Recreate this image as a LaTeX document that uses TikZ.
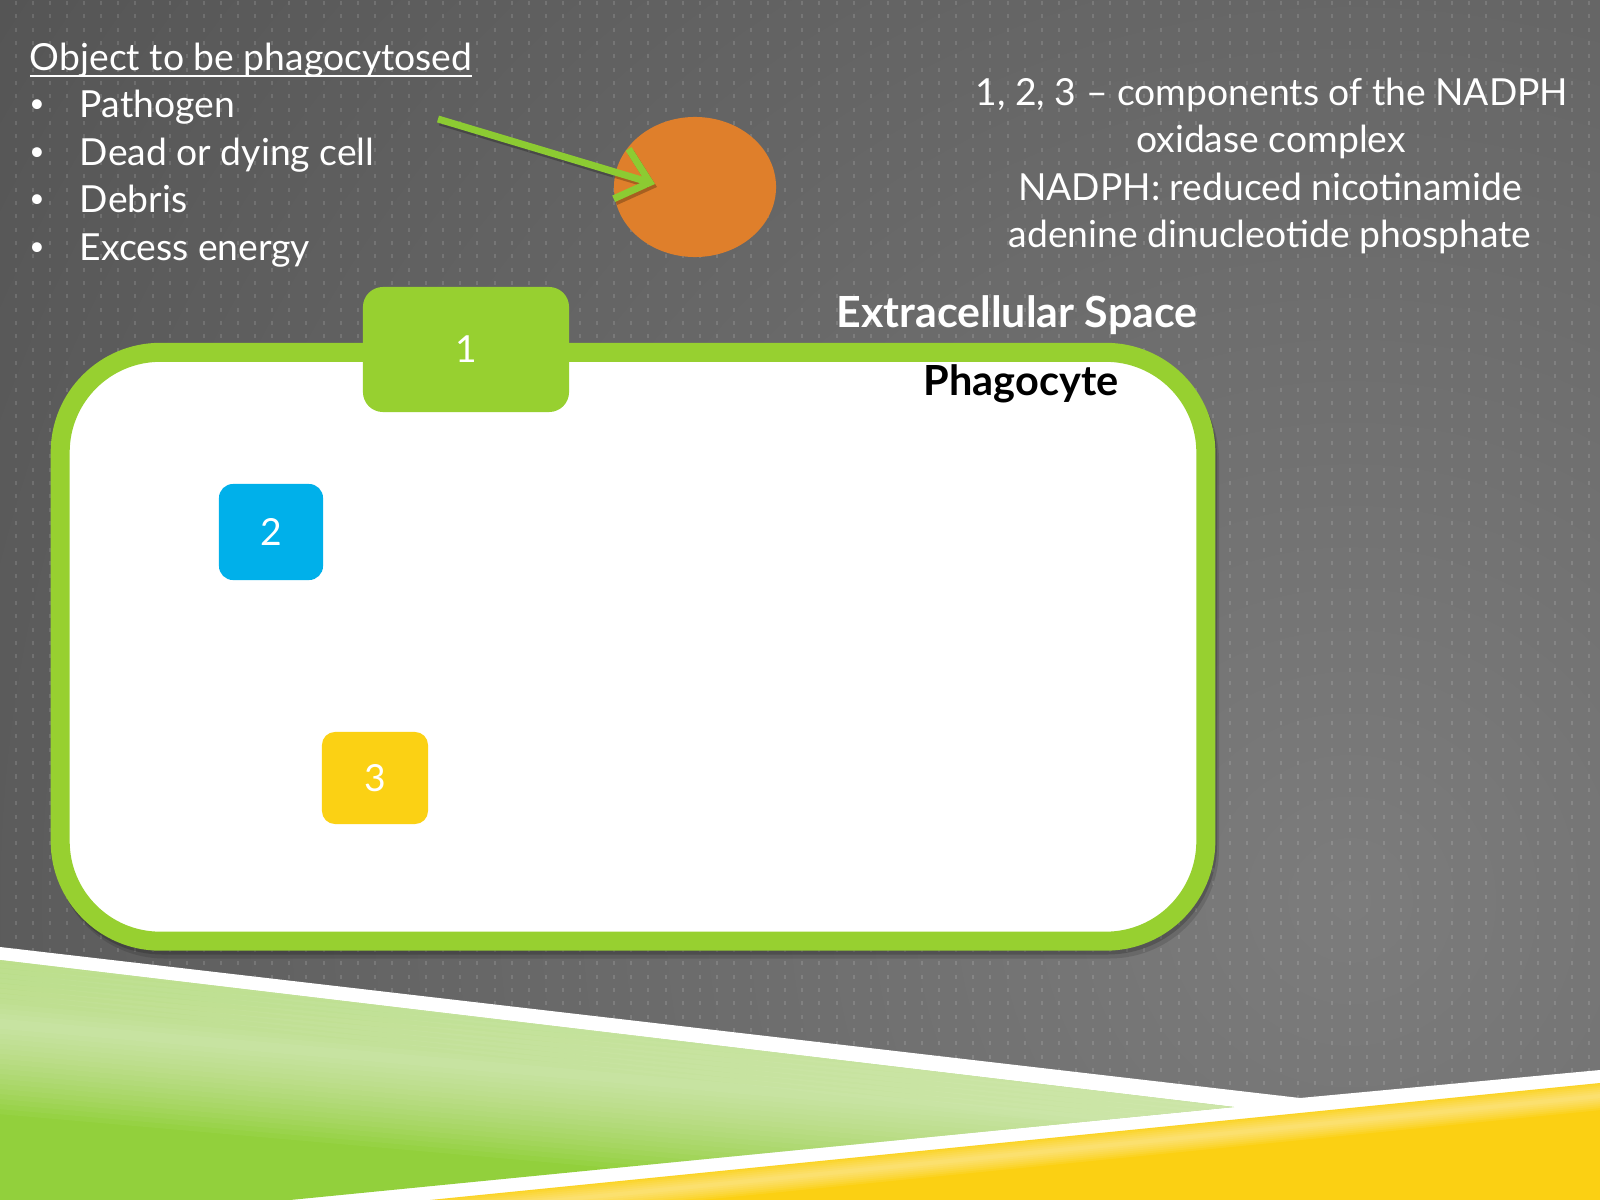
\documentclass[tikz,border=0pt]{standalone}
\usepackage{fontspec}
\setmainfont{Lato}
\usetikzlibrary{shapes.geometric,arrows.meta}
\definecolor{bgdark}{HTML}{474747}
\definecolor{bglight}{HTML}{7C7C7C}
\definecolor{cellgreen}{HTML}{97D030}
\definecolor{arrowgreen}{HTML}{8CCB32}
\definecolor{objorange}{HTML}{DF7F2B}
\definecolor{boxblue}{HTML}{00B0EA}
\definecolor{boxyellow}{HTML}{FBD114}
\definecolor{gA}{HTML}{92D03C}
\definecolor{yA}{HTML}{FBD013}
\newcommand\bodyfs{\fontsize{10.6pt}{13pt}\selectfont}
\newcommand\boldfs{\fontsize{12.2pt}{14pt}\selectfont\bfseries}
\newcommand\phagofs{\fontsize{11.8pt}{14pt}\selectfont\bfseries}
\newcommand\bulletfs{\fontsize{7.5pt}{9pt}\selectfont}
\begin{document}
\begin{tikzpicture}[x=0.01cm,y=-0.01cm,
  txt/.style={text=white, font=\bodyfs, inner sep=0pt, outer sep=0pt},
  bul/.style={text=white, font=\bulletfs, inner sep=0pt, outer sep=0pt, anchor=base},
  numbox/.style={text=white, font=\bodyfs, inner sep=0pt},
  dotcol/.style={white, opacity=0.13, line width=0.02cm, dash pattern=on 0.04cm off 0.0933cm},
  shadowline/.style={black, line width=0.19cm, rounded corners=1cm},
  glow/.style={white, line cap=butt}]
\useasboundingbox (0,0) rectangle (1600,1200);
% background
\fill[bgdark] (0,0) rectangle (1600,1200);
\begin{scope}
  \clip (0,0) rectangle (1600,1200);
  \shade[inner color=bglight, outer color=bgdark] (1350,900) circle (22cm);
\end{scope}
\foreach \i in {0,...,93} {
  \draw[dotcol] (15.7+17.1*\i, 0.9) -- (15.7+17.1*\i, 1200);
}
% bottom bands
\fill[white] (0,947) -- (1300,1098) -- (1600,1070) -- (1600,1200) -- (0,1200) -- cycle;
\begin{scope}
  \clip (0,960) -- (1234,1107) -- (290,1200) -- (0,1200) -- cycle;
  \fill[gA] (0,950) rectangle (1240,1200);
  \foreach \w in {0.1,0.2,...,1.8} {
    \draw[glow, opacity=0.045, line width=\w cm] (-20,1022) -- (1300,1138);
  }
  \foreach \w in {0.1,0.2,...,0.8} {
    \draw[glow, opacity=0.04, line width=\w cm] (-20,955) -- (1300,1109);
  }
\end{scope}
\begin{scope}
  \clip (430,1200) -- (1600,1083) -- (1600,1200) -- cycle;
  \fill[yA] (420,1070) rectangle (1600,1200);
  \foreach \w in {0.04,0.08,...,0.32} {
    \draw[glow, opacity=0.07, line width=\w cm] (400,1216) -- (1620,1094);
  }
\end{scope}
% cell shadow
\draw[shadowline, opacity=0.12] (64.5,360.5) rectangle (1209.5,949);
\draw[shadowline, opacity=0.18] (62.5,356.5) rectangle (1207.5,945);
% cell
\node[draw=cellgreen, line width=0.19cm, fill=white, rounded corners=1cm,
      minimum width=11.45cm, minimum height=5.885cm, inner sep=0pt] (cell) at (633,646.75) {};
% components
\node[numbox, fill=cellgreen, rounded corners=0.2cm, minimum width=2.06cm, minimum height=1.25cm] (c1) at (466,349.5) {1};
\node[numbox, fill=boxblue, rounded corners=0.14cm, minimum width=1.04cm, minimum height=0.96cm] (c2) at (271,532) {2};
\node[numbox, fill=boxyellow, rounded corners=0.13cm, minimum width=1.06cm, minimum height=0.92cm] (c3) at (375,778) {3};
% labels in the cell area
\node[txt, font=\boldfs, anchor=base] (extra) at (1017,327) {Extracellular Space};
\node[txt, text=black, font=\phagofs, anchor=base] (phago) at (1021,395) {Phagocyte};
% object
\node[ellipse, fill=objorange, minimum width=1.62cm, minimum height=1.40cm, inner sep=0pt] (obj) at (695,187) {};
\coordinate (astart) at (438,119);
\coordinate (atip) at (655,184);
\draw[black, opacity=0.25, line width=0.07cm, -{Straight Barb[length=0.3cm, width=0.52cm]}] ([xshift=0.02cm,yshift=-0.03cm]astart) -- ([xshift=0.02cm,yshift=-0.03cm]atip);
\draw[arrowgreen, line width=0.07cm, -{Straight Barb[length=0.3cm, width=0.52cm]}] (astart) -- (atip);
% left list
\node[txt, anchor=base west] (title) at (30,70) {Object to be phagocytosed};
\draw[white, line width=0.02cm] ([yshift=-0.06cm]title.base west) -- ([yshift=-0.06cm]title.base east);
\node[bul] (b1) at (37,112) {•};
\node[txt, anchor=base west] (l1) at (80,117) {Pathogen};
\node[bul] (b2) at (37,160) {•};
\node[txt, anchor=base west] (l2) at (80,165) {Dead or dying cell};
\node[bul] (b3) at (37,207) {•};
\node[txt, anchor=base west] (l3) at (80,212) {Debris};
\node[bul] (b4) at (37,255) {•};
\node[txt, anchor=base west] (l4) at (80,260) {Excess energy};
% right text
\node[txt, anchor=base] (r1) at (1272,105) {1, 2, 3 – components of the NADPH};
\node[txt, anchor=base] (r2) at (1271,152) {oxidase complex};
\node[txt, anchor=base] (r3) at (1270,200) {NADPH: reduced nicotinamide};
\node[txt, anchor=base] (r4) at (1270,247) {adenine dinucleotide phosphate};
\end{tikzpicture}
\end{document}
